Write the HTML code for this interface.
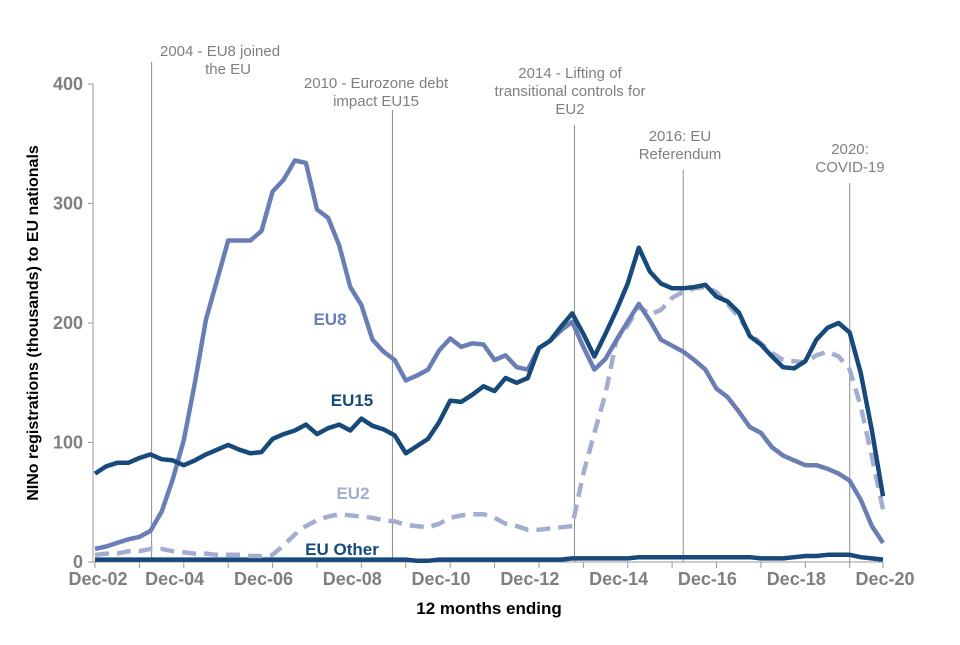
<!DOCTYPE html>
<html><head><meta charset="utf-8"><style>
body{margin:0;background:#fff;}
svg text{font-family:"Liberation Sans",Arial,sans-serif;}
</style></head><body>
<svg id="chart" width="960" height="640" viewBox="0 0 960 640" xmlns="http://www.w3.org/2000/svg">
<rect width="960" height="640" fill="#fff"/>
<g id="annot"></g><g id="axes"></g><g id="series"></g><g id="labels"></g>
</svg>
<script>
const years = ["Dec-02","Dec-04","Dec-06","Dec-08","Dec-10","Dec-12","Dec-14","Dec-16","Dec-18","Dec-20"];
const yTicks = [0,100,200,300,400];
const eu8 = [11,13,16,19,21,26,42,69,102,150,203,236,269,269,269,277,310,320,336,334,295,288,265,230,215,186,176,169,152,156,161,177,187,180,183,182,169,
173,163,161,179,185,194,201,180,161,170,186,201,216,202,186,181,176,169,161,145,138,126,113,108,96,89,85,81,81,78,74,68,52,30,16];
const eu15 = [74,80,83,83,87,90,86,85,81,85,90,94,98,94,91,92,103,107,110,115,107,112,115,110,120,114,111,106,91,97,103,117,135,134,140,147,143,
154,150,154,179,185,197,208,191,172,191,211,233,263,243,233,229,229,230,232,222,218,209,189,182,172,163,162,168,186,196,200,192,158,110,55];
const eu2 = [6,7,7,9,9,11,11,9,8,7,7,6,6,6,5,5,6,14,23,30,35,38,40,39,38,37,35,34,31,30,29,32,37,39,40,40,37,
32,30,27,27,28,29,30,74,108,141,186,198,214,207,211,221,226,229,230,226,216,205,191,183,175,169,168,167,173,176,172,161,130,88,44];
const euOther = [2,2,2,2,2,2,2,2,2,2,2,2,2,2,2,2,2,2,2,2,2,2,2,2,2,2,2,2,2,1,1,2,2,2,2,2,2,
2,2,2,2,2,2,3,3,3,3,3,3,4,4,4,4,4,4,4,4,4,4,4,3,3,3,4,5,5,6,6,6,4,3,2];
const events = [{i:5.1,top:62,lines:["2004 - EU8 joined","the EU"],tx:[160,228],ty:56,anchor:["start","middle"]},
{i:26.8,top:110,lines:["2010 - Eurozone debt","impact EU15"],tx:[376,376],ty:88},
{i:43.2,top:125,lines:["2014 - Lifting of","transitional controls for","EU2"],tx:[570,570,570],ty:78},
{i:53,top:170,lines:["2016: EU","Referendum"],tx:[680,680],ty:141},
{i:68,top:183,lines:["2020:","COVID-19"],tx:[850,850],ty:154}];

const NS="http://www.w3.org/2000/svg";
const X0=95,X1=883,N=eu8.length;
const x=i=>X0+i*(X1-X0)/(N-1);
const y=v=>562-v*(478/400);
function mk(tag,attrs,parent,txt){const e=document.createElementNS(NS,tag);for(const k in attrs)e.setAttribute(k,attrs[k]);if(txt!==undefined)e.textContent=txt;parent.appendChild(e);return e;}
const annot=document.getElementById('annot'),axes=document.getElementById('axes'),ser=document.getElementById('series'),lab=document.getElementById('labels');

events.forEach((ev,k)=>{
  const l=mk('line',{x1:x(ev.i),x2:x(ev.i),y1:ev.top,y2:562,stroke:'#8c8c8c','stroke-width':1},annot);
  
  
  ev.lines.forEach((t,j)=>{
    const tt=mk('text',{x:ev.tx[j],y:ev.ty+j*18,'font-size':15,fill:'#7f7f7f','text-anchor':(ev.anchor?ev.anchor[j]:'middle')},annot,t);
    
    
  });
});

let a=mk('line',{x1:93,x2:93,y1:84,y2:562,stroke:'#999','stroke-width':1},axes);


a=mk('line',{x1:93,x2:883,y1:562,y2:562,stroke:'#999','stroke-width':1},axes);


yTicks.forEach(v=>{
  mk('line',{x1:88,x2:93,y1:y(v),y2:y(v),stroke:'#999'},axes);
  const t=mk('text',{x:83,y:y(v)+6,'font-size':18,'font-weight':'bold',fill:'#7f7f7f','text-anchor':'end'},axes,v);
  
  
});
for(let i=0;i<N;i+=4){mk('line',{x1:x(i),x2:x(i),y1:562,y2:568,stroke:'#999'},axes);}
mk('line',{x1:X1,x2:X1,y1:562,y2:568,stroke:'#999'},axes);
years.forEach((lbl,k)=>{
  const idx=k*8-1;
  const px=Math.max(98,x(idx)+2);
  const t=mk('text',{x:px,y:585,'font-size':18,'font-weight':'bold',fill:'#7f7f7f','text-anchor':'middle'},axes,lbl);
  
  
});
let t=mk('text',{x:489,y:614,'font-size':17,'font-weight':'bold',fill:'#000','text-anchor':'middle'},axes,'12 months ending');


t=mk('text',{x:0,y:0,'font-size':16,'font-weight':'bold',fill:'#000','text-anchor':'middle',transform:'translate(38,323) rotate(-90)'},axes,'NINo registrations (thousands) to EU nationals');



function line(arr,color,dash,name){
  const d=arr.map((v,i)=>(i?'L':'M')+x(i).toFixed(1)+' '+y(v).toFixed(1)).join(' ');
  const p=mk('path',{d:d,fill:'none',stroke:color,'stroke-width':4.5,'stroke-linejoin':'round'},ser);
  if(dash)p.setAttribute('stroke-dasharray',dash);
  
  
}
line(euOther,'#17497a',null,'eu-other-line');
line(eu2,'#a3adcf','14 8','eu2-line');
line(eu8,'#6a7db5',null,'eu8-line');
line(eu15,'#17497a',null,'eu15-line');

[['EU8',330,325,'#6a7db5','eu8-label'],['EU15',352,406,'#17497a','eu15-label'],['EU2',353,499,'#a3adcf','eu2-label'],['EU Other',342,555,'#17497a','eu-other-label']].forEach(s=>{
  const e=mk('text',{x:s[1],y:s[2],'font-size':17,'font-weight':'bold',fill:s[3],'text-anchor':'middle'},lab,s[0]);
  
  
});
</script>
</body></html>
